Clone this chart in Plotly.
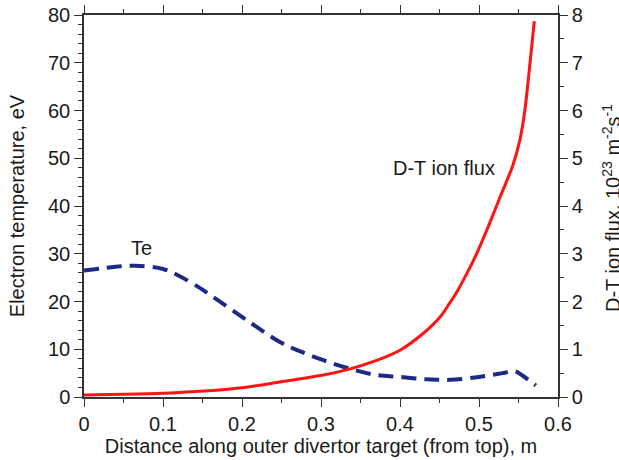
import plotly.graph_objects as go

# Electron temperature (left axis, eV)
te_x = [0.0, 0.02, 0.04, 0.065, 0.1, 0.12, 0.147, 0.163, 0.206, 0.248, 0.273, 0.303,
        0.337, 0.37, 0.4, 0.434, 0.463, 0.5, 0.53, 0.545, 0.555, 0.572]
te_y = [26.5, 26.9, 27.3, 27.5, 26.8, 25.4, 22.8, 21.0, 16.1, 11.5, 9.6, 7.7,
        5.9, 4.6, 4.2, 3.7, 3.6, 4.2, 5.0, 5.4, 4.5, 2.4]

# D-T ion flux (right axis, 1e23 m^-2 s^-1)
fx_x = [0.0, 0.05, 0.101, 0.152, 0.203, 0.253, 0.303, 0.337, 0.366, 0.4, 0.43,
        0.451, 0.463, 0.472, 0.485, 0.497, 0.51, 0.527, 0.543, 0.552, 0.558, 0.564, 0.57]
fx_y = [0.04, 0.055, 0.08, 0.125, 0.2, 0.33, 0.46, 0.59, 0.74, 0.98, 1.34,
        1.68, 1.97, 2.2, 2.6, 3.0, 3.5, 4.2, 4.86, 5.4, 6.0, 6.9, 7.87]

x_ticks = [0, 0.1, 0.2, 0.3, 0.4, 0.5, 0.6]
x_ticklabels = ["0", "0.1", "0.2", "0.3", "0.4", "0.5", "0.6"]

FONT = "Liberation Sans, Arial, Helvetica, sans-serif"
INK = "#1a1a1a"
TICK = 20
LAB = 20

fig = go.Figure()
fig.add_trace(go.Scatter(x=fx_x, y=fx_y, mode="lines", yaxis="y2",
                         line=dict(color="#ff1414", width=3, shape="spline", smoothing=1),
                         showlegend=False))
fig.add_trace(go.Scatter(x=te_x, y=te_y, mode="lines",
                         line=dict(color="#1c2a86", width=4, shape="spline", smoothing=1,
                                   dash="15px,8px"),
                         showlegend=False))

axis_common = dict(showline=True, linecolor="#333", linewidth=1.5, ticks="outside",
                   tickcolor="#333", tickwidth=1.2, ticklen=8, showgrid=False,
                   zeroline=False, tickfont=dict(family=FONT, size=TICK, color=INK))

pw, ph = 619 - 84 - 61, 460 - 15 - 63

fig.update_layout(
    width=619, height=460,
    margin=dict(l=84, r=61, t=15, b=63, autoexpand=False),
    plot_bgcolor="white", paper_bgcolor="white",
    font=dict(family=FONT, color=INK),
    xaxis=dict(range=[0, 0.6], tickvals=x_ticks, ticktext=x_ticklabels, mirror="ticks",
               minor=dict(dtick=0.05, ticklen=4, ticks="outside", tickcolor="#333"),
               title=dict(text="Distance along outer divertor target (from top), m",
                          font=dict(size=LAB, family=FONT, color=INK), standoff=2),
               **axis_common),
    yaxis=dict(range=[0, 80], dtick=10,
               minor=dict(dtick=2, ticklen=4, ticks="outside", tickcolor="#333"),
               title=dict(text="Electron temperature, eV",
                          font=dict(size=LAB, family=FONT, color=INK), standoff=18),
               **axis_common),
    yaxis2=dict(range=[0, 8], dtick=1, overlaying="y", side="right",
                minor=dict(dtick=0.5, ticklen=4, ticks="outside", tickcolor="#333"),
                **axis_common),
    annotations=[
        dict(x=0.0734, y=31.2, xref="x", yref="y", text="Te", showarrow=False,
             font=dict(size=LAB, family=FONT, color=INK)),
        dict(x=0.456, y=48, xref="x", yref="y", text="D-T ion flux", showarrow=False,
             font=dict(size=LAB, family=FONT, color=INK)),
        dict(x=(612 - 84) / pw, y=(460 - 63 - 208) / ph, xref="paper", yref="paper",
             xanchor="center", yanchor="middle",
             text="D-T ion flux, 10<sup>23</sup> m<sup>-2</sup>s<sup>-1</sup>",
             textangle=-90, showarrow=False, font=dict(size=LAB, family=FONT, color=INK)),
    ],
)

fig.write_html("out.html")
